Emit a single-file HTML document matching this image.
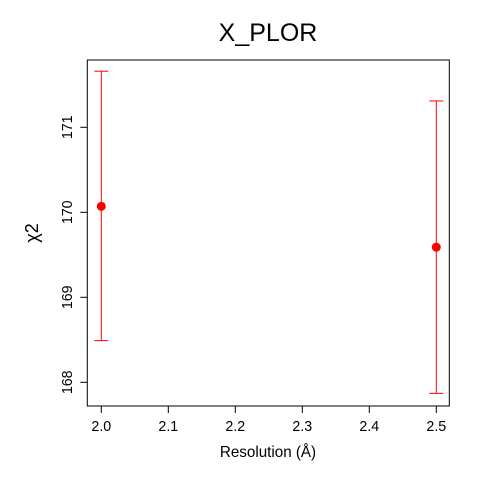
<!DOCTYPE html>
<html><head><meta charset="utf-8"><style>
body{margin:0;background:#fff}
svg{display:block;font-family:"Liberation Sans",sans-serif}
</style></head><body>
<svg id="chart" width="480" height="480" viewBox="0 0 480 480">
<rect width="480" height="480" fill="#fff"/>
<text x="268" y="41" font-size="25" text-anchor="middle">X_PLOR</text>
<rect x="87.3" y="60" width="362" height="346" fill="none" stroke="#000" stroke-width="1"/>
<g id="xaxis"></g>
<g id="yaxis"></g>
<g id="marks"></g>
<text x="268" y="457" font-size="16" text-anchor="middle" transform="translate(268,0) scale(0.95,1) translate(-268,0)">Resolution (Å)</text>
<text transform="translate(38,233) rotate(-90)" font-size="18" text-anchor="middle">χ2</text>
</svg>
<script>
const xTicks=[2.0,2.1,2.2,2.3,2.4,2.5];
const xTickLabels=["2.0","2.1","2.2","2.3","2.4","2.5"];
const yTicks=[168,169,170,171];
const yTickLabels=["168","169","170","171"];
const resolutions=[2.0,2.5];
const chi2=[170.07,169.59];
const errLow=[168.49,167.87];
const errHigh=[171.66,171.31];
const NS="http://www.w3.org/2000/svg";
const xs=v=>101.3+(v-2.0)*670;
const ys=v=>212.3-(v-170)*85;
function mk(t,a,p){const e=document.createElementNS(NS,t);for(const k in a)e.setAttribute(k,a[k]);p.appendChild(e);return e;}
const xa=document.getElementById('xaxis'),ya=document.getElementById('yaxis'),m=document.getElementById('marks');
xTicks.forEach((v,i)=>{
 const l=mk('line',{x1:xs(v),x2:xs(v),y1:406,y2:413,stroke:'#000'},xa);
 
 
 const t=mk('text',{transform:`translate(${xs(v)},431) scale(0.95,1)`,'font-size':15,'text-anchor':'middle'},xa);
 t.textContent=xTickLabels[i];
 
 
});
yTicks.forEach((v,i)=>{
 const l=mk('line',{x1:80.3,x2:87.3,y1:ys(v),y2:ys(v),stroke:'#000'},ya);
 
 
 const t=mk('text',{transform:`translate(72,${ys(v)}) rotate(-90) scale(0.95,1)`,'font-size':15,'text-anchor':'middle'},ya);
 t.textContent=yTickLabels[i];
 
 
});
resolutions.forEach((r,i)=>{
 const x=xs(r);
 const g=mk('g',{},m);
 
 
 mk('line',{x1:x,x2:x,y1:ys(errHigh[i]),y2:ys(errLow[i]),stroke:'#f00'},g);
 mk('line',{x1:x-7,x2:x+7,y1:ys(errHigh[i]),y2:ys(errHigh[i]),stroke:'#f00'},g);
 mk('line',{x1:x-7,x2:x+7,y1:ys(errLow[i]),y2:ys(errLow[i]),stroke:'#f00'},g);
 const c=mk('circle',{cx:x,cy:ys(chi2[i]),r:4.5,fill:'#f00'},m);
 
 
});
</script>
</body></html>
